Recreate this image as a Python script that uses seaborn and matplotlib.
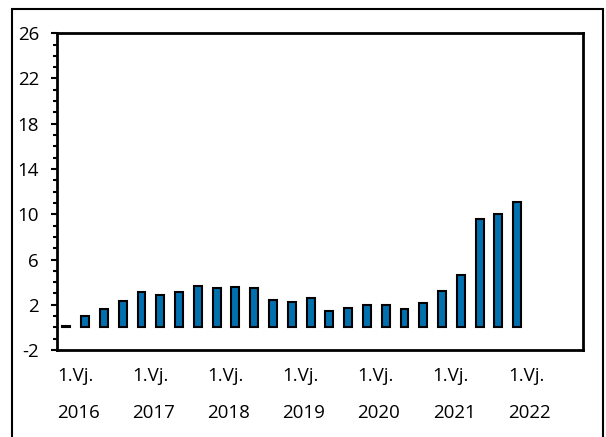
import matplotlib
matplotlib.use("Agg")
import matplotlib.pyplot as plt
from matplotlib.patches import Rectangle
from matplotlib.ticker import MultipleLocator
import seaborn as sns

# quarterly values, 2016 Q1 .. 2022 Q1
quarters = [f"{y}Q{q}" for y in range(2016, 2023) for q in range(1, 5)][:25]
values = [0.1, 1.0, 1.6, 2.3, 3.1, 2.85, 3.15, 3.7, 3.5, 3.55, 3.5, 2.45, 2.25,
          2.6, 1.45, 1.75, 1.95, 1.95, 1.65, 2.15, 3.2, 4.6, 9.6, 10.05, 11.1]
year_labels = ["1.Vj.\n2016", "1.Vj.\n2017", "1.Vj.\n2018", "1.Vj.\n2019",
               "1.Vj.\n2020", "1.Vj.\n2021", "1.Vj.\n2022"]
y_ticks = [-2, 2, 6, 10, 14, 18, 22, 26]

sns.set_style("white")
plt.rcParams['font.family'] = ['Open Sans', 'DejaVu Sans']
plt.rcParams['text.color'] = 'black'
plt.rcParams['xtick.color'] = 'black'
plt.rcParams['ytick.color'] = 'black'
plt.rcParams['axes.unicode_minus'] = False

fig = plt.figure(figsize=(6.06, 4.37), dpi=100)
ax = fig.add_axes([0.094, 0.199, 0.868, 0.725])

sns.barplot(x=quarters, y=values, color='#0070AF', edgecolor='black',
            linewidth=1.5, width=0.42, saturation=1, ax=ax)

ax.set_xlim(-0.5, 27.5)
ax.set_ylim(-2, 26)
ax.set_yticks(y_ticks)
ax.yaxis.set_minor_locator(MultipleLocator(1))
ax.tick_params(axis='y', which='major', length=4, width=1.5, direction='out',
               left=True, labelsize=13.5, pad=9)
ax.tick_params(axis='y', which='minor', length=3, width=1.5, direction='out', left=True)

ax.set_xticks([-0.5 + 4 * i for i in range(len(year_labels))])
ax.set_xticklabels(year_labels, ha='left', linespacing=2.4)
ax.tick_params(axis='x', length=0, labelsize=13.5, pad=12)
ax.set_xlabel('')
ax.set_ylabel('')

for s in ax.spines.values():
    s.set_visible(True)
    s.set_color('black')
    s.set_linewidth(2)

# outer frame around the chart
fig.patches.append(Rectangle((12 / 606, -0.05), 591 / 606, 1.05 - 9 / 437,
                             transform=fig.transFigure, fill=False,
                             edgecolor='black', linewidth=1.5))

fig.savefig('out.png', dpi=100)
